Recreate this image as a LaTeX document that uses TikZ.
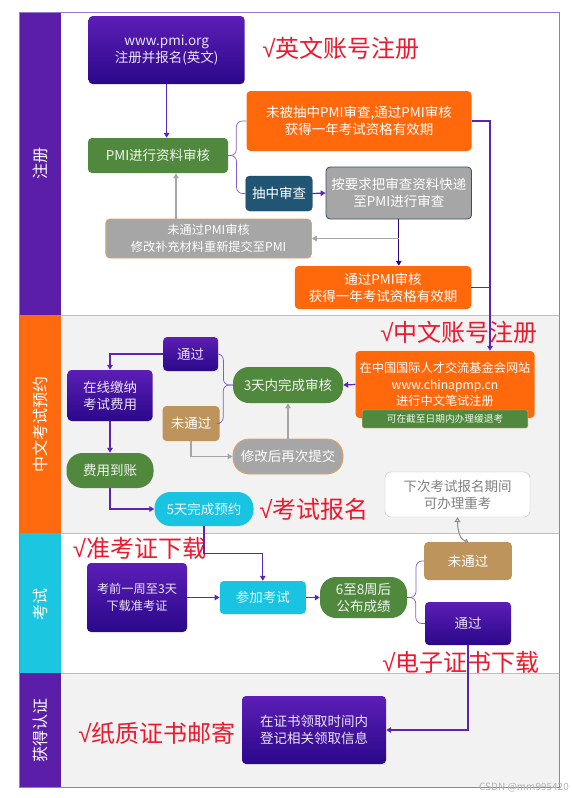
\documentclass[tikz,border=0pt]{standalone}
\usepackage{fontspec}
\setmainfont{Noto Sans CJK SC}
\newfontfamily\tickfont{Liberation Sans}
\usetikzlibrary{arrows.meta,positioning}
\definecolor{lanepurple}{RGB}{90,30,168}
\definecolor{laneorange}{RGB}{255,106,14}
\definecolor{lanecyan}{RGB}{26,198,224}
\definecolor{lanegray}{RGB}{242,242,242}
\definecolor{framepurple}{RGB}{150,120,210}
\definecolor{linepurple}{RGB}{92,36,176}
\definecolor{deeppurple}{RGB}{42,8,138}
\definecolor{brightpurple}{RGB}{92,30,182}
\definecolor{boxorange}{RGB}{255,105,12}
\definecolor{boxgreen}{RGB}{80,136,62}
\definecolor{boxteal}{RGB}{32,86,116}
\definecolor{boxgray}{RGB}{166,166,166}
\definecolor{boxtan}{RGB}{188,148,92}
\definecolor{boxcyan}{RGB}{24,196,226}
\definecolor{checkred}{RGB}{238,24,44}
\definecolor{edgeorange}{RGB}{232,160,96}
\definecolor{edgeslate}{RGB}{60,80,100}
\newcommand{\tick}{{\tickfont √}}
\tikzset{
  lanelabel/.style={
    rotate=90,
    text=white,
    inner sep=0pt,
    font=\fontsize{16}{16}\selectfont
  },
  basebox/.style={
    rounded corners=4pt,
    align=center,
    inner sep=2pt,
    text=white,
    font=\fontsize{13.5}{17}\selectfont
  },
  pbox/.style={
    basebox,
    top color=brightpurple,
    bottom color=deeppurple,
    text=white!88!lanepurple
  },
  obox/.style={basebox,fill=boxorange},
  gbox/.style={basebox,fill=boxgreen,text=white!92!boxgreen},
  tealbox/.style={basebox,fill=boxteal,draw=boxteal!70!black},
  slatebox/.style={basebox,fill=boxgray,draw=edgeslate,line width=.8pt},
  graybox/.style={basebox,fill=boxgray,draw=edgeorange,line width=.8pt},
  tanbox/.style={basebox,fill=boxtan},
  cbox/.style={basebox,fill=boxcyan,text=white!90!boxcyan},
  retakebox/.style={basebox,rounded corners=6pt,fill=white,draw=black!25,text=black!50},
  pill/.style={rounded corners=16pt},
  smalltext/.style={font=\fontsize{12.2}{16.5}\selectfont},
  check/.style={
    text=checkred,
    inner sep=0pt,
    font=\fontsize{24}{24}\selectfont
  },
  flow/.style={
    -{Triangle[length=5pt,width=5.5pt]},
    line width=1.2pt,
    linepurple
  },
  back/.style={
    -{Triangle[length=5pt,width=5.5pt]},
    line width=1.2pt,
    black!35
  },
  brace/.style={
    rounded corners=6pt,
    line width=.7pt,
    linepurple!75
  },
  retry/.style={
    {Circle[open,length=4pt]}-{Triangle[open,length=5pt,width=6pt]},
    line width=1pt,
    black!45
  }
}

\begin{document}
\begin{tikzpicture}[x=1pt,y=-1pt]
\useasboundingbox (0,0) rectangle (571,798);
\fill[white] (0,0) rectangle (571,798);
% lanes
\fill[white] (61,12) rectangle (559,315);
\fill[lanegray] (61,315) rectangle (559,533);
\fill[white] (61,533) rectangle (559,673);
\fill[lanegray] (61,673) rectangle (559,787);
\fill[lanepurple] (19,12) rectangle (61,315);
\fill[laneorange] (19,315) rectangle (61,533);
\fill[lanecyan] (19,533) rectangle (61,673);
\fill[lanepurple] (19,673) rectangle (61,787);
\draw[framepurple!55,line width=1pt] (61,315) -- (559,315) (61,533) -- (559,533) (61,673) -- (559,673);
\draw[framepurple,line width=1pt] (19,12) rectangle (559,787);
\node[lanelabel] (lab1) at (40,163.5) {注册};
\node[lanelabel] (lab2) at (40,424) {中文考试预约};
\node[lanelabel] (lab3) at (40,604) {考试};
\node[lanelabel] (lab4) at (40,730) {获得认证};

% 注册
\node[pbox,minimum width=156pt,minimum height=68pt] (web) at (166.6,50) {www.pmi.org\\注册并报名(英文)};
\node[check] (tip1) at (341,48) {\tick 英文账号注册};
\node[gbox,minimum width=140pt,minimum height=35pt] (review) at (158,155.5) {PMI进行资料审核};
\node[obox,minimum width=225pt,minimum height=60pt] (otop) at (359,121) {未被抽中PMI审查,通过PMI审核\\获得一年考试资格有效期};
\node[tealbox,minimum width=66.5pt,minimum height=35pt] (drawn) at (279,193.5) {抽中审查};
\node[slatebox,minimum width=145.5pt,minimum height=52pt] (mail) at (398.8,193) {按要求把审查资料快递\\至PMI进行审查};
\node[graybox,smalltext,minimum width=205.5pt,minimum height=39pt] (fixup) at (208.6,238.5) {未通过PMI审核\\修改补充材料重新提交至PMI};
\node[obox,minimum width=176.5pt,minimum height=43pt] (obot) at (383,287.5) {通过PMI审核\\获得一年考试资格有效期};

% 中文考试预约
\node[check] (tip2) at (459,332) {\tick 中文账号注册};
\node[obox,smalltext,minimum width=179pt,minimum height=67pt] (cn) at (445,384.5) {在中国国际人才交流基金会网站\\www.chinapmp.cn\\进行中文笔试注册};
\node[gbox,rounded corners=2pt,draw=edgeorange,inner sep=0pt,minimum width=165.6pt,minimum height=18pt,font=\fontsize{9.7}{10}\selectfont] (note) at (445,419) {可在截至日期内办理缓退考};
\node[gbox,pill,minimum width=110pt,minimum height=36pt] (verify) at (288,385) {3天内完成审核};
\node[pbox,minimum width=55pt,minimum height=34pt] (pass2) at (190.7,354) {通过};
\node[tanbox,minimum width=57pt,minimum height=35pt] (fail2) at (191,423.5) {未通过};
\node[pbox,minimum width=85pt,minimum height=51pt] (pay) at (110,395.5) {在线缴纳\\考试费用};
\node[gbox,pill,minimum width=87pt,minimum height=35pt] (paid) at (110,470.5) {费用到账};
\node[graybox,pill,minimum width=110pt,minimum height=35pt] (resub) at (288,456.5) {修改后再次提交};
\node[cbox,pill,minimum width=99pt,minimum height=34pt] (book) at (204,509) {5天完成预约};
\node[check] (tip3) at (314,509) {\tick 考试报名};
\node[retakebox,minimum width=145pt,minimum height=45pt] (retake) at (457.5,494.5) {下次考试报名期间\\可办理重考};

% 考试
\node[check] (tip4) at (139.5,548) {\tick 准考证下载};
\node[pbox,smalltext,minimum width=100pt,minimum height=69pt] (ticket) at (137,597.5) {考前一周至3天\\下载准考证};
\node[cbox,minimum width=86pt,minimum height=33pt] (exam) at (262.8,597.5) {参加考试};
\node[gbox,pill,minimum width=87pt,minimum height=41pt] (score) at (363.5,597.5) {6至8周后\\公布成绩};
\node[tanbox,minimum width=87.6pt,minimum height=38pt] (fail3) at (468,561) {未通过};
\node[pbox,minimum width=86pt,minimum height=43pt] (pass3) at (468,623.5) {通过};
\node[check] (tip5) at (461,662) {\tick 电子证书下载};

% 获得认证
\node[pbox,minimum width=144pt,minimum height=68pt] (cert) at (314,730) {在证书领取时间内\\登记相关领取信息};
\node[check] (tip6) at (157,733) {\tick 纸质证书邮寄};
\node[anchor=east,inner sep=0pt,text=black!30,font=\fontsize{10}{10}\selectfont] (mark) at (569,788) {CSDN @mm995420};

% connectors
\draw[flow] (web.south) -- (web.south |- review.north);
\draw[brace] (review.east) -| ([xshift=-10pt]otop.west) -- (otop.west);
\draw[brace] (review.east) -| ([xshift=-9pt]drawn.west) -- (drawn.west);
\draw[flow] (drawn.east) -- (mail.west);
\draw[flow,deeppurple] (mail.south) -- (mail.south |- obot.north);
\coordinate (split) at (mail.south |- fixup.east);
\draw[back] (split) -- (fixup.east);
\draw[back] ([xshift=-32.6pt]fixup.north) -- ([xshift=18pt]review.south);
\draw[flow] (otop.east) -| ([xshift=45pt]cn.north);
\draw[flow,-] (obot.east) -- ++(18.5,0);
\draw[flow] (cn.west) -- (verify.east);
\draw[brace] (verify.west) -| ([xshift=5pt]pass2.east) -- (pass2.east);
\draw[brace] (verify.west) -| ([xshift=3.5pt]fail2.east) -- (fail2.east);
\draw[flow] (pass2.west) -| (pay.north);
\draw[flow] (pay.south) -- (paid.north);
\draw[flow] (paid.south) |- (book.west);
\draw[back] (fail2.south) |- (resub.west);
\draw[back] (resub.north) -- (verify.south);
\draw[flow] (book.south) -- ++(0,27) -| (exam.north);
\draw[flow] (ticket.east) -- (exam.west);
\draw[flow] (exam.east) -- (score.west);
\draw[brace] (score.east) -| ([xshift=-8pt]fail3.west) -- (fail3.west);
\draw[brace] (score.east) -| ([xshift=-9pt]pass3.west) -- (pass3.west);
\draw[flow] (pass3.south) |- (cert.east);
\draw[retry] (fail3.north) .. controls +(-9,-3) and +(0,10) .. (retake.south);
\end{tikzpicture}
\end{document}
